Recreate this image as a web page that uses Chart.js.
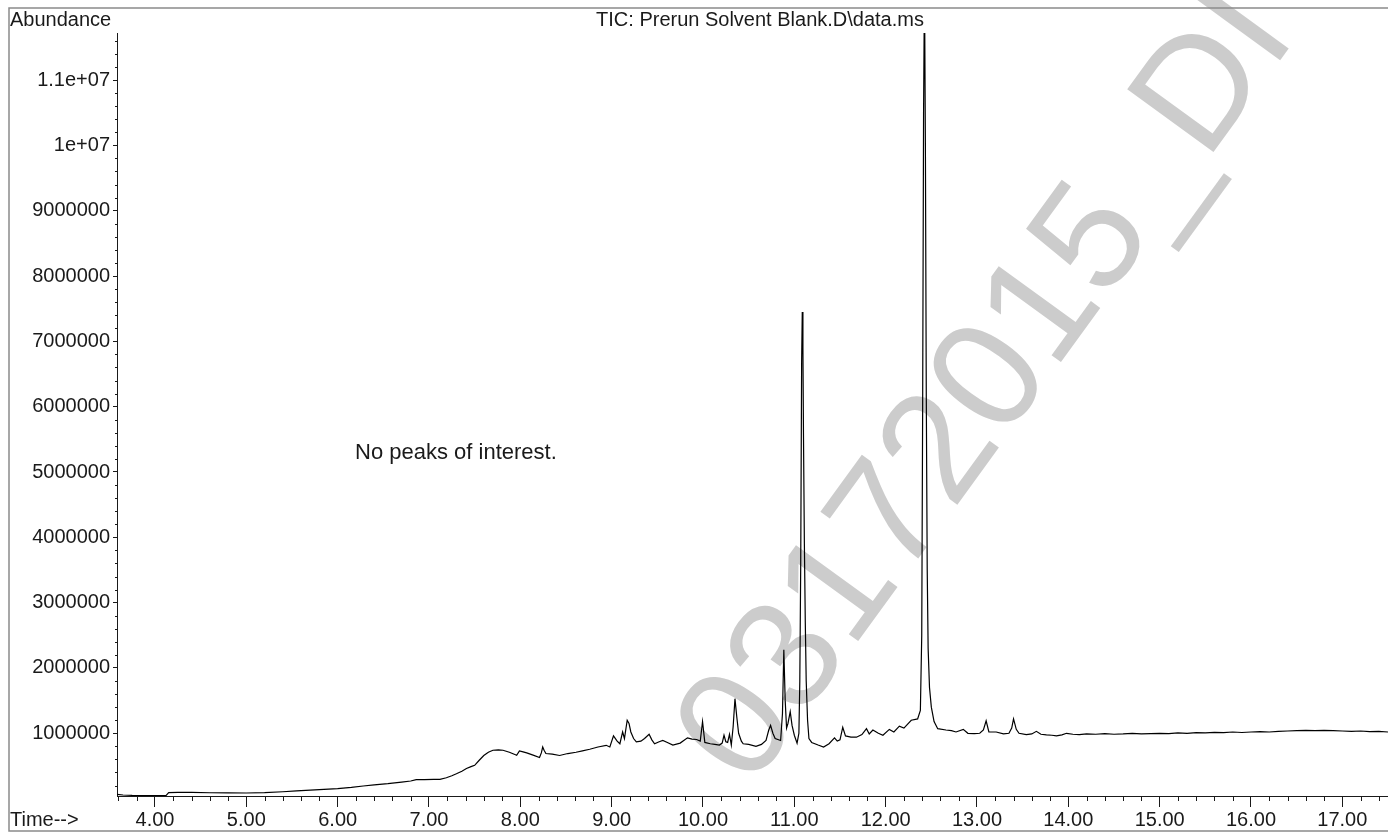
<!DOCTYPE html>
<html>
<head>
<meta charset="utf-8">
<script src="https://cdn.jsdelivr.net/npm/chart.js@4.4.1/dist/chart.umd.min.js"></script>
<style>
  html, body { margin: 0; background: #fff; }
  #wrap { width: 1388px; height: 833px; }
</style>
</head>
<body>
<div id="wrap"><canvas id="tic" width="1388" height="833"></canvas></div>
<script>
// retention time (min) / abundance
const times = [
  3.584, 3.65, 3.75, 3.90, 4.05, 4.12, 4.15, 4.25, 4.40, 4.60, 4.80, 5.00, 5.20, 5.40, 5.55,
  5.70, 5.85, 6.00, 6.15, 6.28, 6.40, 6.55, 6.70, 6.80, 6.86, 6.95, 7.05, 7.12, 7.19, 7.25,
  7.30, 7.36, 7.41, 7.46, 7.50, 7.55, 7.60, 7.65, 7.70, 7.76, 7.81, 7.88, 7.94, 7.96, 7.99,
  8.03, 8.07, 8.14, 8.21, 8.23, 8.245, 8.26, 8.28, 8.35, 8.43, 8.52, 8.61, 8.68, 8.76, 8.85,
  8.94, 8.98, 9.02, 9.06, 9.09, 9.12, 9.14, 9.17, 9.19, 9.21, 9.24, 9.27, 9.32, 9.36, 9.41,
  9.44, 9.47, 9.52, 9.56, 9.61, 9.67, 9.75, 9.83, 9.88, 9.93, 9.97, 9.995, 10.02, 10.08, 10.13,
  10.18, 10.21, 10.23, 10.25, 10.27, 10.29, 10.31, 10.33, 10.35, 10.37, 10.39, 10.42, 10.44, 10.50, 10.58,
  10.64, 10.69, 10.72, 10.74, 10.765, 10.79, 10.85, 10.87, 10.885, 10.90, 10.915, 10.93, 10.955, 10.975, 11.00,
  11.03, 11.05, 11.06, 11.07, 11.08, 11.087, 11.094, 11.10, 11.11, 11.12, 11.13, 11.145, 11.16, 11.19, 11.26,
  11.32, 11.38, 11.44, 11.47, 11.50, 11.53, 11.56, 11.62, 11.68, 11.74, 11.79, 11.82, 11.86, 11.92, 11.97,
  12.04, 12.09, 12.15, 12.20, 12.28, 12.35, 12.38, 12.395, 12.405, 12.415, 12.425, 12.435, 12.445, 12.455, 12.465,
  12.48, 12.50, 12.53, 12.57, 12.66, 12.72, 12.77, 12.85, 12.90, 12.97, 13.03, 13.07, 13.10, 13.13, 13.21,
  13.29, 13.35, 13.38, 13.40, 13.43, 13.46, 13.54, 13.60, 13.65, 13.70, 13.76, 13.82, 13.87, 13.93, 13.98,
  14.05, 14.12, 14.20, 14.30, 14.40, 14.50, 14.60, 14.70, 14.80, 14.90, 15.00, 15.10, 15.20, 15.30, 15.40,
  15.50, 15.60, 15.70, 15.80, 15.90, 16.00, 16.10, 16.20, 16.30, 16.40, 16.50, 16.60, 16.70, 16.80, 16.90,
  17.00, 17.10, 17.20, 17.30, 17.40, 17.50
]
const abundance = [
  66000, 55000, 50000, 48000, 46000, 46000, 92000, 97000, 95000, 90000, 87000, 86000, 92000, 105000, 117000,
  130000, 142000, 153000, 172000, 193000, 210000, 228000, 252000, 270000, 290000, 292000, 294000, 296000, 320000, 350000,
  380000, 420000, 460000, 490000, 510000, 587000, 660000, 710000, 740000, 745000, 740000, 710000, 675000, 663000, 730000,
  715000, 700000, 665000, 630000, 700000, 790000, 740000, 690000, 680000, 660000, 690000, 710000, 730000, 755000, 790000,
  816000, 790000, 960000, 880000, 840000, 1020000, 920000, 1200000, 1150000, 1020000, 920000, 870000, 880000, 920000, 985000,
  900000, 840000, 870000, 890000, 860000, 820000, 850000, 930000, 910000, 905000, 880000, 1180000, 860000, 840000, 830000,
  820000, 850000, 970000, 870000, 860000, 985000, 820000, 1100000, 1530000, 1250000, 1000000, 880000, 840000, 830000, 800000,
  830000, 890000, 1050000, 1120000, 1000000, 920000, 890000, 1300000, 2280000, 1500000, 1080000, 1150000, 1330000, 1120000, 970000,
  850000, 1000000, 1800000, 3600000, 6700000, 7450000, 6900000, 5600000, 3900000, 2700000, 1800000, 1200000, 920000, 860000, 820000,
  790000, 840000, 930000, 880000, 900000, 1090000, 960000, 940000, 940000, 980000, 1070000, 990000, 1050000, 1000000, 970000,
  1060000, 1020000, 1110000, 1080000, 1200000, 1220000, 1350000, 2500000, 6000000, 10500000, 12500000, 10000000, 6100000, 3500000, 2300000,
  1700000, 1400000, 1180000, 1070000, 1050000, 1040000, 1020000, 1060000, 1000000, 995000, 1000000, 1050000, 1190000, 1020000, 1020000,
  990000, 1000000, 1080000, 1220000, 1060000, 1000000, 980000, 990000, 1030000, 985000, 975000, 970000, 960000, 975000, 1000000,
  985000, 980000, 990000, 985000, 995000, 985000, 990000, 1000000, 990000, 995000, 1000000, 995000, 1005000, 1000000, 1010000,
  1005000, 1015000, 1010000, 1020000, 1012000, 1020000, 1025000, 1020000, 1030000, 1035000, 1040000, 1045000, 1040000, 1045000, 1040000,
  1035000, 1030000, 1035000, 1025000, 1030000, 1020000
]

const xTicks      = [4, 5, 6, 7, 8, 9, 10, 11, 12, 13, 14, 15, 16, 17]
const xTickLabels = ['4.00', '5.00', '6.00', '7.00', '8.00', '9.00', '10.00', '11.00', '12.00', '13.00', '14.00', '15.00', '16.00', '17.00']
const yTicks      = [1e6, 2e6, 3e6, 4e6, 5e6, 6e6, 7e6, 8e6, 9e6, 1e7, 1.1e7]
const yTickLabels = ['1000000', '2000000', '3000000', '4000000', '5000000', '6000000', '7000000', '8000000', '9000000', '1e+07', '1.1e+07']

const X_MIN = 3.584, X_MAX = 17.5
const Y_MIN = 40000, Y_MAX = 11720000

const FONT = '"Liberation Sans", Arial, Helvetica, sans-serif'
const INK  = '#1a1a1a'

// ramka, podpisy, drobne podziałki, znak wodny
const decor = {
  id: 'decor',
  beforeDraw (chart) {
    const { ctx } = chart
    ctx.save()
    ctx.fillStyle = '#fff'
    ctx.fillRect(0, 0, chart.width, chart.height)

    // znak wodny
    ctx.translate(750, 790)
    ctx.rotate(-54 * Math.PI / 180)
    ctx.fillStyle = '#cccccc'
    ctx.font = '155px ' + FONT
    ctx.textBaseline = 'alphabetic'
    ctx.fillText('03172015_DI', 0, 0)
    ctx.restore()
  },
  afterDraw (chart) {
    const { ctx, scales: { x, y }, chartArea: a } = chart
    ctx.save()

    // ramka
    ctx.strokeStyle = '#8a8a8a'
    ctx.lineWidth = 1.5
    ctx.strokeRect(9, 8, 1400, 823)

    // drobne podziałki X (co 0.2)
    ctx.strokeStyle = INK
    ctx.lineWidth = 1
    ctx.beginPath()
    for (let i = 18; i <= 87; i++) {
      if (i % 5 === 0) continue
      const px = Math.round(x.getPixelForValue(i / 5)) + 0.5
      ctx.moveTo(px, a.bottom)
      ctx.lineTo(px, a.bottom + 5)
    }
    // drobne podziałki Y (co 200000)
    for (let i = 1; i <= 58; i++) {
      if (i % 5 === 0) continue
      const v = i * 200000
      if (v < Y_MIN) continue
      const py = Math.round(y.getPixelForValue(v)) + 0.5
      ctx.moveTo(a.left - 2, py)
      ctx.lineTo(a.left, py)
    }
    ctx.stroke()

    ctx.fillStyle = INK
    ctx.font = '20px ' + FONT
    ctx.textBaseline = 'middle'
    ctx.textAlign = 'left'
    ctx.fillText('Abundance', 10, 20)
    ctx.fillText('Time-->', 10, 820)
    ctx.textAlign = 'center'
    ctx.fillText('TIC: Prerun Solvent Blank.D\\data.ms', 760, 20)
    ctx.textAlign = 'left'
    ctx.font = '22px ' + FONT
    ctx.fillText('No peaks of interest.', 355, 453)
    ctx.restore()
  }
}

new Chart(document.getElementById('tic'), {
  type: 'line',
  data: {
    datasets: [{
      data: times.map((t, i) => ({ x: t, y: abundance[i] })),
      borderColor: '#000',
      borderWidth: 1.2,
      pointRadius: 0,
      tension: 0
    }]
  },
  options: {
    responsive: false,
    animation: false,
    devicePixelRatio: 1,
    layout: { padding: { top: 33, left: 0, right: 0, bottom: 0 } },
    plugins: { legend: { display: false }, tooltip: { enabled: false }, title: { display: false } },
    scales: {
      x: {
        type: 'linear',
        min: X_MIN,
        max: X_MAX,
        afterBuildTicks: s => { s.ticks = xTicks.map(v => ({ value: v })) },
        afterFit: s => { s.height = 37 },
        ticks: {
          autoSkip: false,
          maxRotation: 0,
          padding: 1,
          color: INK,
          font: { family: FONT, size: 20 },
          callback: (v, i) => xTickLabels[i]
        },
        grid: { drawOnChartArea: false, tickLength: 11, tickColor: INK },
        border: { display: true, color: INK, width: 1 }
      },
      y: {
        type: 'linear',
        min: Y_MIN,
        max: Y_MAX,
        afterBuildTicks: s => { s.ticks = yTicks.map(v => ({ value: v })) },
        afterFit: s => { s.width = 117 },
        ticks: {
          autoSkip: false,
          padding: 3,
          color: INK,
          font: { family: FONT, size: 20 },
          callback: (v, i) => yTickLabels[i]
        },
        grid: { drawOnChartArea: false, tickLength: 4, tickColor: INK },
        border: { display: true, color: INK, width: 1 }
      }
    }
  },
  plugins: [decor]
})
</script>
</body>
</html>
